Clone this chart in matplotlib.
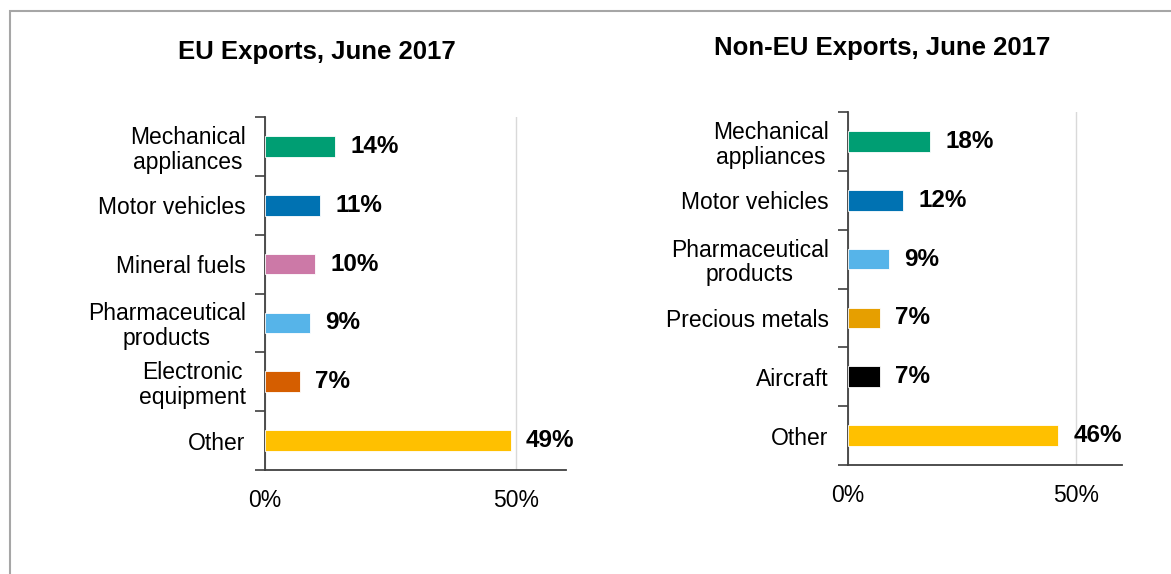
import numpy as np
import matplotlib
matplotlib.use("Agg")
import matplotlib.pyplot as plt
from matplotlib.patches import Rectangle

plt.rcParams['font.family'] = ['Liberation Sans', 'DejaVu Sans']

# EU exports, June 2017 (share of total)
eu_categories = ["Mechanical\nappliances", "Motor vehicles", "Mineral fuels",
                 "Pharmaceutical\nproducts", "Electronic\nequipment", "Other"]
eu_values = [14, 11, 10, 9, 7, 49]
eu_colors = ["#009E73", "#0072B2", "#CC79A7", "#56B4E9", "#D55E00", "#FFC000"]

# Non-EU exports, June 2017
noneu_categories = ["Mechanical\nappliances", "Motor vehicles", "Pharmaceutical\nproducts",
                    "Precious metals", "Aircraft", "Other"]
noneu_values = [18, 12, 9, 7, 7, 46]
noneu_colors = ["#009E73", "#0072B2", "#56B4E9", "#E69F00", "#000000", "#FFC000"]

x_ticks = [0, 50]
x_ticklabels = ["0%", "50%"]

W, H = 1171, 574
fig = plt.figure(figsize=(W / 100, H / 100), dpi=100)

# thin grey frame around the chart area (as in the source slide)
fig.patches.append(Rectangle((10 / W, -0.05), 1.2, 1 - 11 / H + 0.05,
                             transform=fig.transFigure, fill=False,
                             edgecolor="#a6a6a6", lw=1.5, zorder=0))


def draw_panel(rect, title, title_xy, cats, vals, cols):
    ax = fig.add_axes(rect)
    y = np.arange(len(cats))
    ax.barh(y, vals, height=0.35, color=cols, edgecolor="white", linewidth=0.6, zorder=3)
    ax.set_ylim(len(cats) - 0.5, -0.5)
    ax.set_xlim(0, 60)

    # category labels at bar centres, tick marks at category boundaries
    ax.set_yticks(y)
    ax.set_yticklabels(cats, fontsize=16.5, linespacing=1.1, multialignment="center")
    ax.tick_params(axis="y", which="major", length=0, pad=14)
    ax.set_yticks(np.arange(len(cats) + 1) - 0.5, minor=True)
    ax.tick_params(axis="y", which="minor", length=7, width=1.2, color="#404040", direction="out")

    ax.set_xticks(x_ticks)
    ax.set_xticklabels(x_ticklabels, fontsize=16.5)
    ax.tick_params(axis="x", length=0, pad=14)
    ax.xaxis.grid(True, color="#d9d9d9", lw=1, zorder=0)
    ax.set_axisbelow(True)

    for s in ["top", "right"]:
        ax.spines[s].set_visible(False)
    for s in ["left", "bottom"]:
        ax.spines[s].set_color("#404040")
        ax.spines[s].set_linewidth(1.3)

    for yi, v in zip(y, vals):
        ax.annotate(f"{v}%", (v, yi), xytext=(11, 0), textcoords="offset points",
                    va="center", ha="left", fontsize=17.5, fontweight="bold")

    fig.text(title_xy[0] / W, 1 - title_xy[1] / H, title, ha="center", va="center",
             fontsize=18.5, fontweight="bold")
    return ax


draw_panel([265 / W, 1 - 470 / H, 301 / W, 353 / H], "EU Exports, June 2017", (317, 52),
           eu_categories, eu_values, eu_colors)
draw_panel([848 / W, 1 - 465 / H, 274 / W, 353 / H], "Non-EU Exports, June 2017", (882, 48),
           noneu_categories, noneu_values, noneu_colors)

fig.savefig("out.png", dpi=100)
